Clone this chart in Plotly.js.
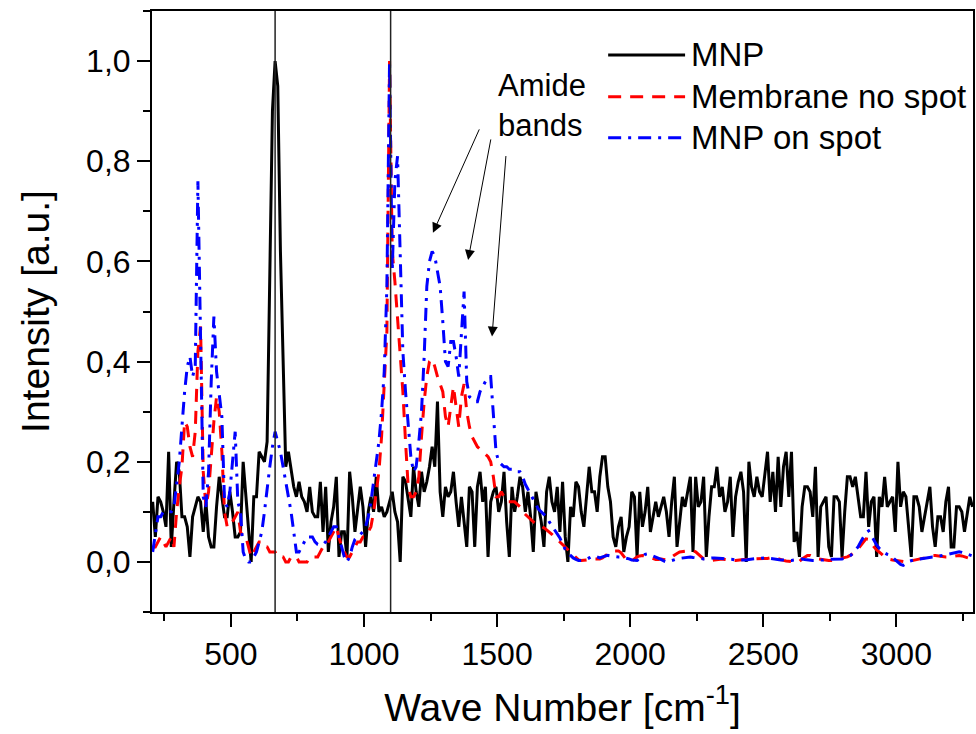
<!DOCTYPE html>
<html><head><meta charset="utf-8">
<script src="https://cdn.plot.ly/plotly-3.0.1.min.js"></script>
<style>html,body{margin:0;padding:0;background:#fff}#chart{width:976px;height:734px}</style>
</head><body><div id="chart"></div>
<script>
// ---- data ----
const seriesNames = ['MNP', 'Membrane no spot', 'MNP on spot'];
const waveStart = 206;   // first wavenumber of every series [cm-1]
const waveStep = 10;     // spacing between samples [cm-1]

const mnp = [
  0.12,0.05,0.13,0.12,0.10,0.07,0.22,0.03,0.12,0.20,
  0.18,0.09,0.09,0.07,0.01,0.09,0.11,0.13,0.12,0.06,
  0.12,0.05,0.03,0.03,0.11,0.17,0.13,0.09,0.09,0.14,
  0.10,0.05,0.05,0.06,0.20,0.13,0.06,0.00,0.13,0.13,
  0.22,0.21,0.20,0.24,0.55,0.90,1.00,0.95,0.62,0.42,
  0.19,0.22,0.18,0.15,0.13,0.16,0.13,0.12,0.10,0.15,
  0.10,0.09,0.09,0.16,0.06,0.15,0.02,0.08,0.11,0.17,
  0.01,0.06,0.06,0.01,0.18,0.13,0.06,0.10,0.15,0.11,
  0.03,0.10,0.13,0.10,0.17,0.10,0.11,0.09,0.10,0.12,
  0.14,0.10,0.08,0.00,0.17,0.16,0.12,0.09,0.19,0.14,
  0.11,0.18,0.14,0.16,0.19,0.23,0.19,0.32,0.14,0.09,
  0.15,0.13,0.14,0.18,0.12,0.07,0.13,0.08,0.03,0.15,
  0.14,0.03,0.15,0.18,0.12,0.15,0.01,0.12,0.14,0.15,
  0.10,0.12,0.18,0.08,0.01,0.15,0.10,0.13,0.17,0.15,
  0.10,0.14,0.09,0.02,0.14,0.11,0.08,0.03,0.14,0.17,
  0.12,0.10,0.15,0.06,0.16,0.05,0.00,0.11,0.09,0.16,
  0.15,0.10,0.07,0.13,0.19,0.14,0.14,0.10,0.17,0.21,
  0.21,0.15,0.12,0.05,0.03,0.07,0.09,0.02,0.05,0.07,
  0.14,0.13,0.01,0.14,0.07,0.10,0.15,0.06,0.09,0.12,
  0.09,0.11,0.13,0.10,0.05,0.12,0.17,0.03,0.08,0.13,
  0.11,0.14,0.17,0.02,0.17,0.11,0.12,0.17,0.01,0.09,
  0.15,0.15,0.19,0.13,0.15,0.10,0.12,0.17,0.05,0.13,
  0.16,0.18,0.14,0.00,0.20,0.15,0.13,0.17,0.14,0.13,
  0.18,0.22,0.12,0.18,0.10,0.21,0.11,0.19,0.22,0.13,
  0.22,0.04,0.06,0.01,0.11,0.15,0.15,0.14,0.09,0.19,
  0.01,0.11,0.12,0.13,0.03,0.01,0.13,0.13,0.12,0.01,
  0.10,0.17,0.17,0.15,0.17,0.13,0.09,0.09,0.18,0.07,
  0.12,0.13,0.01,0.13,0.11,0.17,0.11,0.12,0.13,0.06,
  0.20,0.11,0.14,0.13,0.07,0.01,0.13,0.13,0.11,0.06,
  0.09,0.12,0.15,0.07,0.03,0.09,0.09,0.06,0.12,0.15,
  0.03,0.03,0.11,0.11,0.10,0.06,0.10,0.13,0.11
];

const membrane = [
  0.03,0.03,0.04,0.05,0.04,0.03,0.04,0.05,0.03,0.10,
  0.15,0.19,0.28,0.27,0.23,0.21,0.26,0.42,0.47,0.18,
  0.11,0.14,0.21,0.28,0.33,0.30,0.22,0.10,0.07,0.08,
  0.08,0.09,0.10,0.06,0.05,0.05,0.03,0.01,0.02,0.03,
  0.04,0.04,0.03,0.03,0.02,0.02,0.02,0.01,0.01,0.01,
  0.00,0.00,0.01,0.01,0.01,0.00,0.00,0.00,0.00,0.01,
  0.01,0.01,0.01,0.02,0.03,0.03,0.04,0.05,0.06,0.07,
  0.05,0.03,0.02,0.01,0.01,0.02,0.03,0.04,0.04,0.05,
  0.05,0.06,0.07,0.10,0.14,0.18,0.25,0.36,0.46,1.00,
  0.62,0.56,0.49,0.42,0.34,0.24,0.15,0.13,0.13,0.14,
  0.17,0.25,0.32,0.37,0.40,0.405,0.39,0.37,0.355,0.34,
  0.29,0.27,0.31,0.35,0.31,0.27,0.33,0.355,0.30,0.27,
  0.25,0.24,0.23,0.225,0.22,0.215,0.21,0.20,0.17,0.13,
  0.13,0.14,0.13,0.12,0.12,0.12,0.12,0.115,0.11,0.10,
  0.095,0.09,0.085,0.08,0.077,0.074,0.072,0.068,0.064,0.06,
  0.055,0.05,0.045,0.04,0.035,0.03,0.024,0.02,0.014,0.008,
  0.004,0.003,0.003,0.004,0.005,0.006,0.006,0.006,0.006,0.008,
  0.012,0.016,0.02,0.022,0.022,0.022,0.018,0.01,0.004,0.001,
  0.002,0.006,0.01,0.012,0.013,0.012,0.01,0.008,0.006,0.005,
  0.005,0.006,0.005,0.004,0.006,0.01,0.014,0.017,0.02,0.021,
  0.022,0.022,0.022,0.022,0.02,0.015,0.01,0.006,0.004,0.003,
  0.003,0.004,0.005,0.006,0.006,0.005,0.004,0.004,0.003,0.003,
  0.004,0.004,0.005,0.005,0.006,0.006,0.006,0.006,0.006,0.006,
  0.006,0.007,0.008,0.009,0.008,0.006,0.004,0.003,0.002,0.001,
  0.0,0.0,0.0,0.001,0.006,0.01,0.013,0.013,0.01,0.008,
  0.006,0.005,0.004,0.003,0.003,0.003,0.004,0.005,0.006,0.007,
  0.008,0.01,0.013,0.016,0.02,0.026,0.033,0.04,0.046,0.045,
  0.037,0.03,0.024,0.02,0.015,0.01,0.007,0.005,0.004,0.003,
  0.002,0.001,0.0,0.0,0.001,0.002,0.004,0.005,0.006,0.007,
  0.008,0.01,0.012,0.013,0.013,0.012,0.011,0.01,0.01,0.01,
  0.011,0.012,0.013,0.013,0.012,0.01,0.008,0.007,0.006
];

const spot = [
  0.02,0.06,0.09,0.09,0.10,0.10,0.10,0.10,0.11,0.15,
  0.20,0.27,0.34,0.39,0.41,0.37,0.39,0.76,0.45,0.13,
  0.11,0.18,0.36,0.49,0.38,0.33,0.29,0.12,0.11,0.14,
  0.20,0.26,0.12,0.10,0.02,0.005,0.0,0.0,0.01,0.02,
  0.04,0.06,0.10,0.15,0.19,0.23,0.26,0.24,0.22,0.19,
  0.16,0.13,0.10,0.06,0.02,0.02,0.03,0.04,0.05,0.05,
  0.05,0.04,0.035,0.033,0.035,0.04,0.05,0.06,0.07,0.07,
  0.05,0.03,0.01,0.0,0.01,0.03,0.045,0.05,0.055,0.06,
  0.07,0.09,0.12,0.16,0.19,0.24,0.30,0.38,0.55,1.00,
  0.58,0.76,0.81,0.60,0.42,0.34,0.27,0.21,0.18,0.19,
  0.24,0.30,0.41,0.55,0.60,0.62,0.61,0.58,0.55,0.48,
  0.40,0.39,0.44,0.44,0.41,0.37,0.46,0.54,0.36,0.33,
  0.325,0.32,0.32,0.34,0.35,0.36,0.37,0.37,0.30,0.22,
  0.20,0.195,0.19,0.19,0.185,0.185,0.18,0.18,0.18,0.17,
  0.155,0.145,0.135,0.125,0.115,0.105,0.10,0.095,0.09,0.08,
  0.072,0.065,0.058,0.048,0.036,0.025,0.018,0.012,0.008,0.005,
  0.003,0.003,0.004,0.005,0.008,0.011,0.012,0.01,0.008,0.01,
  0.012,0.013,0.012,0.011,0.01,0.01,0.01,0.009,0.007,0.006,
  0.004,0.003,0.003,0.006,0.011,0.015,0.016,0.014,0.012,0.01,
  0.008,0.005,0.002,0.0,0.001,0.003,0.004,0.006,0.007,0.008,
  0.009,0.01,0.01,0.009,0.008,0.007,0.006,0.006,0.007,0.008,
  0.008,0.008,0.008,0.008,0.007,0.006,0.006,0.005,0.005,0.004,
  0.004,0.003,0.003,0.004,0.005,0.006,0.006,0.007,0.007,0.008,
  0.008,0.008,0.007,0.006,0.006,0.005,0.004,0.004,0.003,0.003,
  0.003,0.004,0.005,0.006,0.006,0.005,0.004,0.003,0.003,0.003,
  0.003,0.004,0.004,0.005,0.005,0.006,0.006,0.006,0.006,0.006,
  0.007,0.009,0.012,0.017,0.023,0.03,0.04,0.05,0.058,0.062,
  0.052,0.043,0.034,0.027,0.022,0.018,0.015,0.013,0.009,0.004,
  0.0,-0.005,-0.007,-0.004,0.001,0.003,0.004,0.005,0.006,0.006,
  0.007,0.008,0.009,0.01,0.01,0.011,0.012,0.013,0.015,0.016,
  0.017,0.018,0.019,0.02,0.019,0.017,0.015,0.013,0.012
];

const markerWaves = [666, 1100];          // the two vertical reference lines
const annotationLabel = 'Amide<br>bands';
const amideBands = [1259, 1391, 1481];    // wavenumbers the arrows point at
const amideLevels = [0.657, 0.603, 0.45]; // intensity where each arrow ends

// ---- styles ----
const FONT = '"Liberation Sans", Arial, Helvetica, sans-serif';
const colors = ['#000000', '#ff0000', '#0000ff'];
const widths = [3, 3, 3];
const dashes = ['solid', '13px,9px', '13px,7px,3px,7px'];
const seriesData = [mnp, membrane, spot];

const traces = seriesData.map((ys, i) => ({
  type: 'scatter', mode: 'lines', name: seriesNames[i],
  x0: waveStart, dx: waveStep, y: ys,
  line: {color: colors[i], width: widths[i], dash: dashes[i]},
  hoverinfo: 'skip'
}));

const shapes = markerWaves.map(w => ({
  type: 'line', xref: 'x', yref: 'paper', x0: w, x1: w, y0: 0, y1: 1,
  line: {color: '#222', width: 1.5}, layer: 'above'
}));

// manual legend (long sample lines like the reference)
const legRows = [0.9269, 0.8575, 0.7889];
const annotations = [];
seriesNames.forEach((n, i) => {
  shapes.push({type: 'line', xref: 'paper', yref: 'paper', x0: 0.5556, x1: 0.6493,
    y0: legRows[i], y1: legRows[i], line: {color: colors[i], width: widths[i], dash: dashes[i]}});
  annotations.push({xref: 'paper', yref: 'paper', x: 0.6535, y: legRows[i], xanchor: 'left',
    yanchor: 'middle', text: n, showarrow: false, font: {size: 33, color: '#000', family: FONT}});
});

annotations.push({xref: 'paper', yref: 'paper', x: 0.4195, y: 0.842, xanchor: 'left', yanchor: 'middle',
  align: 'left', text: annotationLabel, showarrow: false, font: {size: 31, color: '#000', family: FONT}});

const tails = [[47, -105], [23, -122], [14, -182]];
amideBands.forEach((w, i) => {
  annotations.push({x: w, y: amideLevels[i], xref: 'x', yref: 'y', text: '', showarrow: true,
    ax: tails[i][0], ay: tails[i][1], arrowhead: 2, arrowsize: 2, arrowwidth: 1, arrowcolor: '#000', standoff: 0});
});

const axisCommon = {
  showline: true, linewidth: 2, linecolor: '#000', mirror: true,
  ticks: 'outside', ticklen: 13, tickwidth: 2, tickcolor: '#000',
  showgrid: false, zeroline: false, tickfont: {size: 32, family: FONT, color: '#000'}
};

const layout = {
  width: 976, height: 734,
  margin: {l: 152, r: 3, t: 11, b: 122},
  paper_bgcolor: '#fff', plot_bgcolor: '#fff',
  showlegend: false, separators: ', ',
  font: {family: FONT, color: '#000'},
  xaxis: Object.assign({}, axisCommon, {
    range: [203.5, 3288], tickmode: 'linear', tick0: 0, dtick: 500,
    minor: {tick0: 0, dtick: 250, ticks: 'outside', ticklen: 7, tickwidth: 2, tickcolor: '#000', showgrid: false},
    title: {text: 'Wave Number [cm<sup>-1</sup>]', font: {size: 39, family: FONT, color: '#000'}, standoff: 22}
  }),
  yaxis: Object.assign({}, axisCommon, {
    range: [-0.1, 1.1], tickmode: 'linear', tick0: 0, dtick: 0.2, tickformat: '.1f',
    minor: {tick0: 0, dtick: 0.1, ticks: 'outside', ticklen: 7, tickwidth: 2, tickcolor: '#000', showgrid: false},
    title: {text: 'Intensity [a.u.]', font: {size: 39, family: FONT, color: '#000'}, standoff: 24}
  }),
  shapes: shapes,
  annotations: annotations
};

Plotly.newPlot('chart', traces, layout, {staticPlot: true, displayModeBar: false});
</script>
</body></html>
